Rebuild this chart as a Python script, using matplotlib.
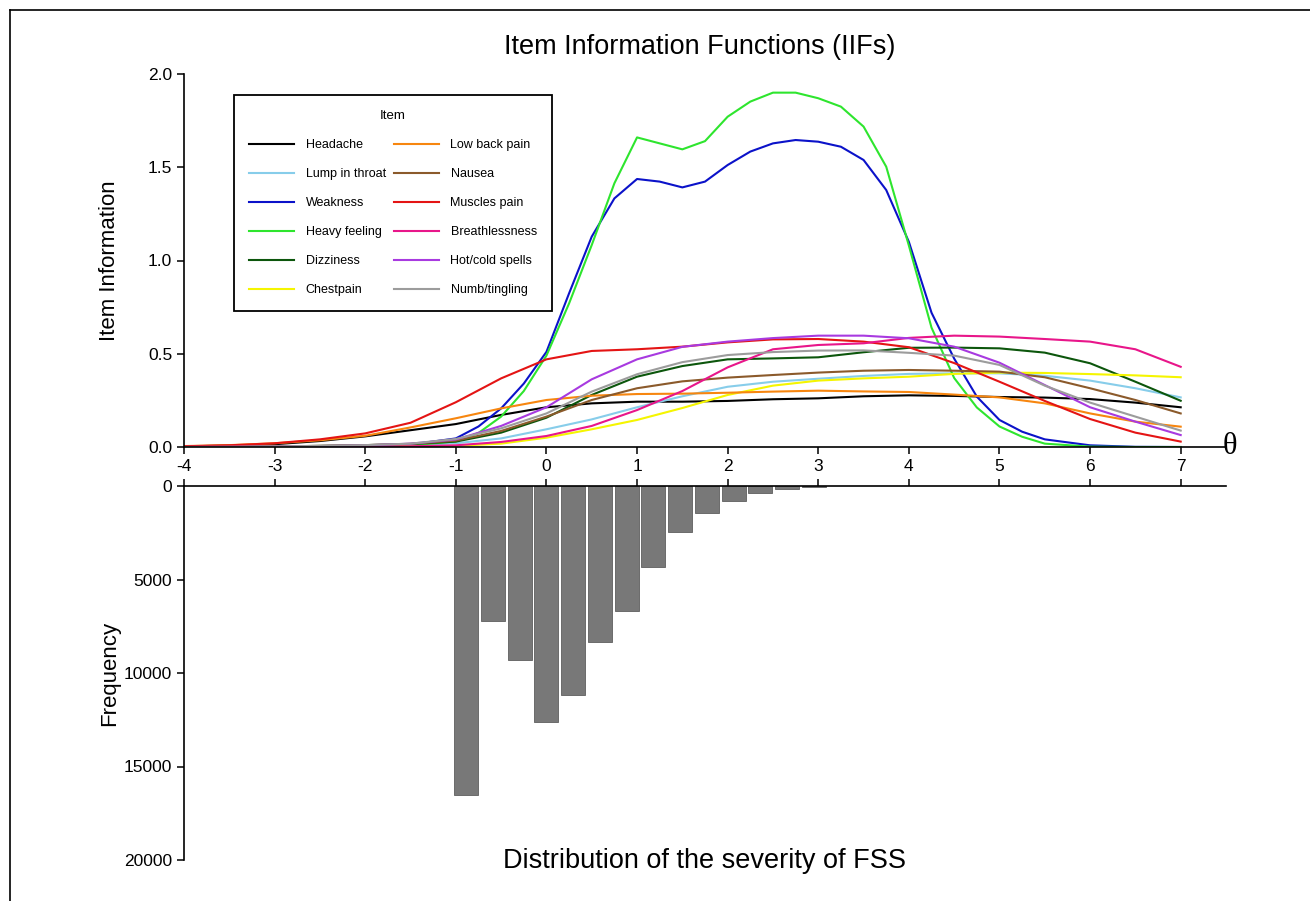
import matplotlib
matplotlib.use('Agg')
import matplotlib.pyplot as plt
from matplotlib.lines import Line2D

plt.rcParams['font.family'] = ['Liberation Sans', 'DejaVu Sans']
plt.rcParams['axes.unicode_minus'] = False

# theta grid for the item curves
theta = [-4, -3.5, -3, -2.5, -2, -1.5, -1, -0.5, 0, 0.5, 1, 1.5, 2, 2.5,
         3, 3.5, 4, 4.5, 5, 5.5, 6, 6.5, 7]
# finer grid for the two peaked items
theta_fine = [-4, -3, -2, -1.5, -1, -0.75, -0.5, -0.25, 0, 0.25, 0.5, 0.75, 1,
              1.25, 1.5, 1.75, 2, 2.25, 2.5, 2.75, 3, 3.25, 3.5, 3.75, 4, 4.25,
              4.5, 4.75, 5, 5.25, 5.5, 6, 6.5, 7]

headache = [0.003, 0.008, 0.015, 0.032, 0.057, 0.09, 0.123, 0.172, 0.213, 0.234,
            0.243, 0.243, 0.247, 0.256, 0.261, 0.272, 0.277, 0.274, 0.268, 0.265,
            0.257, 0.238, 0.213]
lump = [0.0, 0.001, 0.002, 0.003, 0.005, 0.009, 0.02, 0.046, 0.095, 0.148, 0.213,
        0.272, 0.323, 0.35, 0.366, 0.381, 0.392, 0.395, 0.395, 0.382, 0.356,
        0.315, 0.266]
dizziness = [0.0, 0.001, 0.003, 0.006, 0.01, 0.016, 0.029, 0.077, 0.157, 0.279,
             0.377, 0.434, 0.47, 0.475, 0.481, 0.508, 0.532, 0.533, 0.529, 0.506,
             0.449, 0.35, 0.248]
chestpain = [0.0, 0.0, 0.001, 0.001, 0.002, 0.003, 0.006, 0.018, 0.05, 0.095,
             0.145, 0.209, 0.279, 0.329, 0.356, 0.368, 0.377, 0.392, 0.399, 0.397,
             0.391, 0.384, 0.374]
low_back = [0.005, 0.01, 0.02, 0.036, 0.06, 0.105, 0.154, 0.207, 0.252, 0.275,
            0.284, 0.286, 0.291, 0.297, 0.302, 0.298, 0.295, 0.281, 0.266, 0.234,
            0.18, 0.136, 0.109]
nausea = [0.0, 0.001, 0.003, 0.006, 0.01, 0.017, 0.034, 0.086, 0.163, 0.252,
          0.315, 0.352, 0.372, 0.386, 0.399, 0.409, 0.413, 0.409, 0.404, 0.374,
          0.315, 0.252, 0.18]
muscles = [0.004, 0.009, 0.02, 0.041, 0.073, 0.13, 0.24, 0.368, 0.47, 0.515,
           0.524, 0.538, 0.561, 0.577, 0.579, 0.565, 0.535, 0.45, 0.35, 0.247,
           0.15, 0.077, 0.029]
breath = [0.0, 0.0, 0.001, 0.001, 0.002, 0.004, 0.009, 0.027, 0.059, 0.113,
          0.198, 0.30, 0.427, 0.524, 0.547, 0.556, 0.585, 0.597, 0.592, 0.579,
          0.565, 0.524, 0.43]
hotcold = [0.0, 0.001, 0.002, 0.005, 0.009, 0.018, 0.04, 0.113, 0.213, 0.363,
           0.47, 0.537, 0.565, 0.584, 0.597, 0.597, 0.583, 0.538, 0.452, 0.332,
           0.213, 0.136, 0.064]
numb = [0.0, 0.001, 0.003, 0.006, 0.01, 0.018, 0.043, 0.1, 0.18, 0.297, 0.39,
        0.455, 0.493, 0.509, 0.517, 0.518, 0.505, 0.49, 0.44, 0.329, 0.238,
        0.163, 0.088]

weakness = [0.0, 0.001, 0.004, 0.013, 0.046, 0.11, 0.207, 0.34, 0.51, 0.824,
            1.128, 1.333, 1.437, 1.423, 1.392, 1.423, 1.512, 1.584, 1.628, 1.646,
            1.637, 1.61, 1.539, 1.378, 1.10, 0.72, 0.474, 0.27, 0.145, 0.082,
            0.041, 0.009, 0.001, 0.0]
heavy = [0.0, 0.001, 0.003, 0.008, 0.03, 0.075, 0.163, 0.30, 0.49, 0.77, 1.083,
         1.414, 1.66, 1.628, 1.596, 1.64, 1.771, 1.852, 1.9, 1.9, 1.87, 1.825,
         1.718, 1.503, 1.08, 0.64, 0.37, 0.212, 0.11, 0.055, 0.018, 0.002, 0.0,
         0.0]

# histogram of FSS severity (bin centres on theta scale)
bin_centers = [-0.885, -0.59, -0.295, 0.0, 0.295, 0.59, 0.885, 1.18, 1.475,
               1.77, 2.065, 2.36, 2.655, 2.95]
frequency = [16550, 7220, 9300, 12640, 11180, 8360, 6680, 4330, 2440, 1430,
             800, 390, 160, 30]

# order gives the two legend columns
items = [
    ('Headache', theta, headache, '#000000'),
    ('Lump in throat', theta, lump, '#87cdea'),
    ('Weakness', theta_fine, weakness, '#0b12c9'),
    ('Heavy feeling', theta_fine, heavy, '#2ee52e'),
    ('Dizziness', theta, dizziness, '#0c560c'),
    ('Chestpain', theta, chestpain, '#f5f500'),
    ('Low back pain', theta, low_back, '#f7860f'),
    ('Nausea', theta, nausea, '#8b5a2b'),
    ('Muscles pain', theta, muscles, '#e41414'),
    ('Breathlessness', theta, breath, '#e8168a'),
    ('Hot/cold spells', theta, hotcold, '#a83ae0'),
    ('Numb/tingling', theta, numb, '#9c9c9c'),
]

W, H = 1310, 901
fig = plt.figure(figsize=(W / 100, H / 100), dpi=100)
ax = fig.add_axes([184 / W, 1 - 447 / H, 1042 / W, 373 / H])
axh = fig.add_axes([184 / W, 1 - 860 / H, 1042 / W, 374 / H])

for name, x, y, c in items:
    ax.plot(x, y, color=c, lw=1.5, label=name, solid_joinstyle='round')

ax.set_xlim(-4, 7.5)
ax.set_ylim(0, 2.0)
ax.set_xticks(range(-4, 8))
ax.set_yticks([0, 0.5, 1.0, 1.5, 2.0])
ax.set_yticklabels(['0.0', '0.5', '1.0', '1.5', '2.0'])
ax.spines['top'].set_visible(False)
ax.spines['right'].set_visible(False)
for s in ['left', 'bottom']:
    ax.spines[s].set_linewidth(1.2)
ax.tick_params(labelsize=12.5, width=1.1, length=5, direction='out')
ax.set_ylabel('Item Information', fontsize=16)
ax.yaxis.set_label_coords(-0.061, 0.5)
ax.text(7.54, 0, 'θ', fontsize=22, family='Liberation Serif',
        ha='center', va='center', clip_on=False)

leg = ax.legend(loc='upper left', bbox_to_anchor=(234 / W, 1 - 95 / H),
                bbox_transform=fig.transFigure, ncol=2, title='Item',
                fontsize=9, title_fontsize=9.5, fancybox=False,
                edgecolor='black', framealpha=1, handlelength=3.6,
                handletextpad=0.95, columnspacing=0.6, labelspacing=1.36,
                borderpad=1.2, borderaxespad=0)
leg.get_frame().set_linewidth(1.3)

axh.bar(bin_centers, frequency, width=0.265, color='#787878',
        edgecolor='#5e5e5e', linewidth=0.6)
axh.set_xlim(-4, 7.5)
axh.set_ylim(20000, 0)
axh.set_yticks([0, 5000, 10000, 15000, 20000])
axh.set_xticks(range(-4, 8))
axh.xaxis.tick_top()
axh.tick_params(axis='x', labeltop=False, labelbottom=False, width=1.1, length=5)
axh.tick_params(axis='y', labelsize=12.5, width=1.1, length=5)
axh.spines['bottom'].set_visible(False)
axh.spines['right'].set_visible(False)
for s in ['left', 'top']:
    axh.spines[s].set_linewidth(1.2)
axh.set_ylabel('Frequency', fontsize=16)
axh.yaxis.set_label_coords(-0.061, 0.5)

fig.text(700 / W, 1 - 47 / H, 'Item Information Functions (IIFs)',
         fontsize=19.5, ha='center', va='center')
fig.text(705 / W, 1 - 861 / H, 'Distribution of the severity of FSS',
         fontsize=19.5, ha='center', va='center')

# outer frame
fig.add_artist(Line2D([10 / W, 10 / W], [0, 1 - 10 / H], color='black', lw=1.2))
fig.add_artist(Line2D([10 / W, 1], [1 - 10 / H, 1 - 10 / H], color='black', lw=1.2))

fig.savefig('out.png', dpi=100)
